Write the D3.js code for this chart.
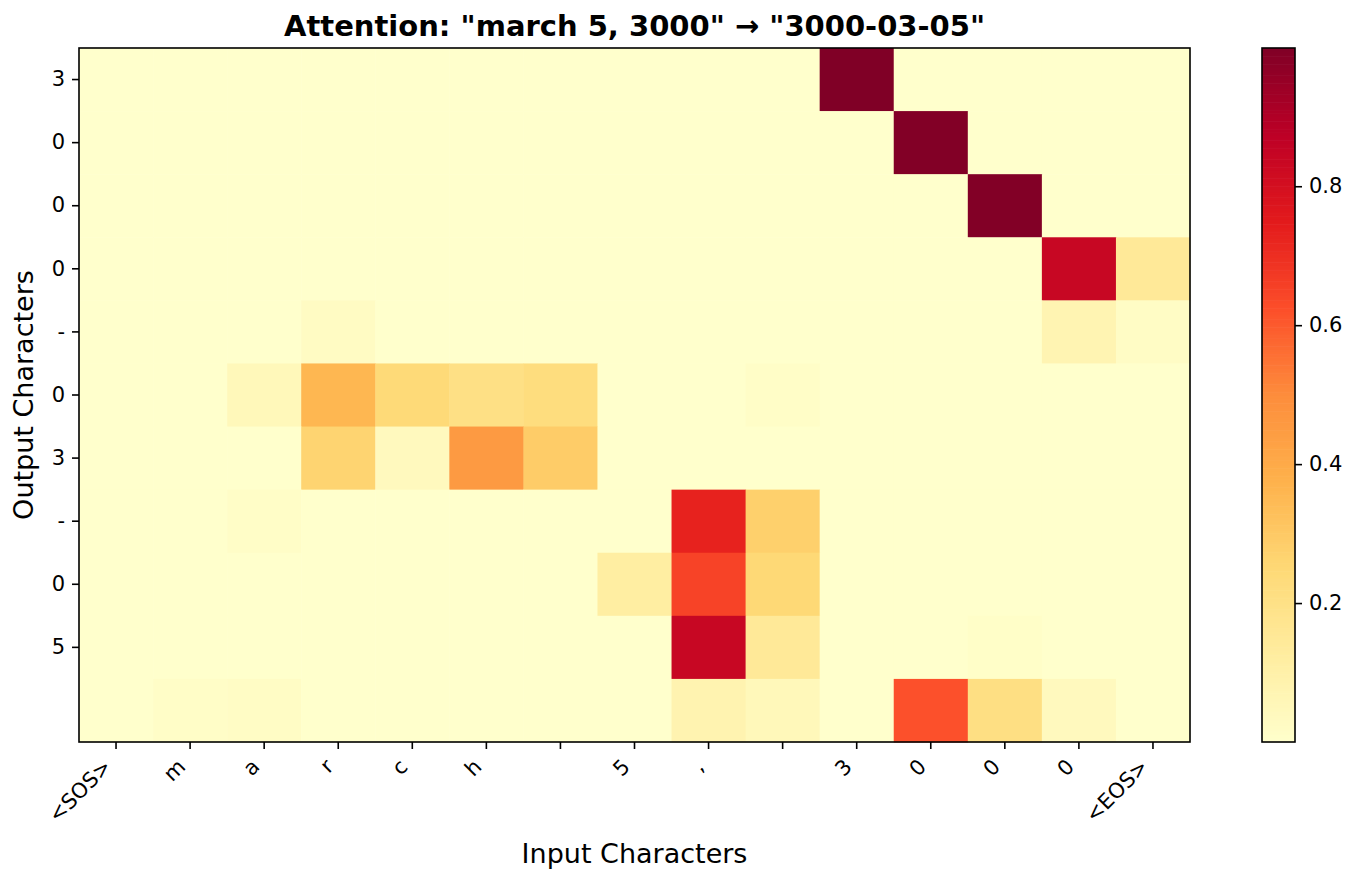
<!DOCTYPE html>
<html>
<head>
<meta charset="UTF-8">
<title>attention_heatmap</title>

<style type="text/css">

	body { margin: 0; background: #ffffff; }

	text { font-family: "DejaVu Sans", sans-serif; fill: #000000; }

	.axis path, .axis line {
		stroke: #000000;
		stroke-width: 1.6px;
	}

	.axis text {
		font-size: 21px;
		fill: #000000;
	}

	.title { font-size: 29px; font-weight: bold; text-anchor: middle; }
	.label { font-size: 27px; text-anchor: middle; }

</style>

<script type="text/javascript" src="https://cdn.jsdelivr.net/npm/d3@7/dist/d3.min.js" charset="utf-8"></script>

<script type="text/javascript">

	// ---- data ----
	var inputChars = ["<SOS>", "m", "a", "r", "c", "h", " ", "5", ",", " ", "3", "0", "0", "0", "<EOS>"];
	var outputChars = ["3", "0", "0", "0", "-", "0", "3", "-", "0", "5", ""];

	// one row per output character, one value per input character
	var attnRow0  = [0, 0, 0, 0, 0, 0, 0, 0, 0, 0, 0.999, 0, 0, 0, 0];
	var attnRow1  = [0, 0, 0, 0, 0, 0, 0, 0, 0, 0, 0, 0.995, 0, 0, 0];
	var attnRow2  = [0, 0, 0, 0, 0, 0, 0, 0, 0, 0, 0, 0, 0.995, 0, 0];
	var attnRow3  = [0, 0, 0, 0, 0, 0, 0, 0, 0, 0, 0, 0, 0, 0.84, 0.15];
	var attnRow4  = [0, 0, 0, 0.025, 0, 0, 0, 0, 0, 0, 0, 0, 0, 0.075, 0.02];
	var attnRow5  = [0, 0, 0.05, 0.36, 0.245, 0.205, 0.225, 0, 0, 0.015, 0, 0, 0, 0, 0];
	var attnRow6  = [0, 0, 0, 0.265, 0.04, 0.455, 0.29, 0, 0, 0, 0, 0, 0, 0, 0];
	var attnRow7  = [0, 0, 0.015, 0, 0, 0, 0, 0, 0.73, 0.28, 0, 0, 0, 0, 0];
	var attnRow8  = [0, 0, 0, 0, 0, 0, 0, 0.12, 0.65, 0.25, 0, 0, 0, 0, 0];
	var attnRow9  = [0, 0, 0, 0, 0, 0, 0, 0, 0.84, 0.15, 0, 0, 0.01, 0, 0];
	var attnRow10 = [0, 0.015, 0.02, 0, 0, 0, 0, 0, 0.08, 0.05, 0, 0.62, 0.21, 0.04, 0];

	var attnRows = [attnRow0, attnRow1, attnRow2, attnRow3, attnRow4, attnRow5,
	                attnRow6, attnRow7, attnRow8, attnRow9, attnRow10];

	var colorbarTicks = [0.2, 0.4, 0.6, 0.8];

	// YlOrRd colour stops (matplotlib)
	var ylOrRd = ["#ffffcc", "#ffeda0", "#fed976", "#feb24c", "#fd8d3c",
	              "#fc4e2a", "#e31a1c", "#bd0026", "#800026"];

	function draw(id_svg_main) {

		var svg_w = 1357, svg_h = 883;
		var left = 79, right = 1190, top = 48, bottom = 742;
		var cb_left = 1262, cb_right = 1295;

		var cells = [];
		attnRows.forEach(function (row, r) {
			row.forEach(function (v, c) { cells.push({ row: r, col: c, value: v }); });
		});

		var extent = d3.extent(cells, function (d) { return d.value; });

		// scales
		var scaleX = d3.scaleBand()
							.domain(d3.range(inputChars.length))
							.range([left, right]);

		var scaleY = d3.scaleBand()
							.domain(d3.range(attnRows.length))
							.range([top, bottom]);

		var scaleT = d3.scaleLinear().domain(extent).range([0, 1]);

		var scaleColor = d3.scaleLinear()
							.domain(ylOrRd.map(function (d, i) { return i / (ylOrRd.length - 1); }))
							.range(ylOrRd)
							.interpolate(d3.interpolateRgb)
							.clamp(true);

		function color(v) { return scaleColor(scaleT(v)); }

		var svg = d3.select(id_svg_main)
						.append("svg")
							.attr("width", svg_w)
							.attr("height", svg_h);

		// heatmap cells
		svg.append("g")
			.selectAll("rect")
			.data(cells)
			.enter()
			.append("rect")
				.attr("x", function (d) { return scaleX(d.col); })
				.attr("y", function (d) { return scaleY(d.row); })
				.attr("width", scaleX.bandwidth() + 0.5)
				.attr("height", scaleY.bandwidth() + 0.5)
				.attr("fill", function (d) { return color(d.value); });

		// x axis
		var axisX = d3.axisBottom(scaleX)
						.tickSize(7)
						.tickSizeOuter(0)
						.tickFormat(function (i) { return inputChars[i]; });

		var gx = svg.append("g")
				.attr("class", "x axis")
				.attr("transform", "translate(0," + bottom + ")")
				.call(axisX);
		gx.select(".domain").remove();
		gx.selectAll("text")
				.attr("x", null)
				.attr("y", null)
				.attr("dy", null)
				.attr("text-anchor", "end")
				.attr("transform", "translate(-3.4,26) rotate(-45)");

		// y axis (only the labelled output characters get a tick)
		var axisY = d3.axisLeft(scaleY)
						.tickValues(d3.range(outputChars.length).filter(function (i) { return outputChars[i] !== ""; }))
						.tickSize(7)
						.tickPadding(7)
						.tickSizeOuter(0)
						.tickFormat(function (i) { return outputChars[i]; });

		var gy = svg.append("g")
				.attr("class", "y axis")
				.attr("transform", "translate(" + left + ",0)")
				.call(axisY);
		gy.select(".domain").remove();

		// frame
		svg.append("rect")
				.attr("x", left).attr("y", top)
				.attr("width", right - left).attr("height", bottom - top)
				.attr("fill", "none")
				.attr("stroke", "#000")
				.attr("stroke-width", 1.6);

		// colorbar
		var scaleCb = d3.scaleLinear().domain(extent).range([bottom, top]);
		var steps = d3.range(256).map(function (i) {
			var v0 = extent[0] + (extent[1] - extent[0]) * i / 256;
			var v1 = extent[0] + (extent[1] - extent[0]) * (i + 1) / 256;
			return { v0: v0, v1: v1 };
		});

		svg.append("g")
			.selectAll("rect")
			.data(steps)
			.enter()
			.append("rect")
				.attr("x", cb_left)
				.attr("y", function (d) { return scaleCb(d.v1); })
				.attr("width", cb_right - cb_left)
				.attr("height", function (d) { return scaleCb(d.v0) - scaleCb(d.v1) + 0.6; })
				.attr("fill", function (d) { return color((d.v0 + d.v1) / 2); });

		var axisCb = d3.axisRight(scaleCb)
						.tickValues(colorbarTicks)
						.tickSize(7)
						.tickPadding(7)
						.tickSizeOuter(0)
						.tickFormat(d3.format(".1f"));

		var gc = svg.append("g")
				.attr("class", "cb axis")
				.attr("transform", "translate(" + cb_right + ",0)")
				.call(axisCb);
		gc.select(".domain").remove();

		svg.append("rect")
				.attr("x", cb_left).attr("y", top)
				.attr("width", cb_right - cb_left).attr("height", bottom - top)
				.attr("fill", "none")
				.attr("stroke", "#000")
				.attr("stroke-width", 1.6);

		// title and axis labels
		svg.append("text")
				.attr("class", "title")
				.attr("x", (left + right) / 2)
				.attr("y", 36)
				.text("Attention: \"march 5, 3000\" \u2192 \"3000-03-05\"");

		svg.append("text")
				.attr("class", "label")
				.attr("x", (left + right) / 2)
				.attr("y", 863)
				.text("Input Characters");

		svg.append("text")
				.attr("class", "label")
				.attr("transform", "translate(33," + ((top + bottom) / 2) + ") rotate(-90)")
				.text("Output Characters");
	}

</script>

</head>
<body>

<div id="div_main"></div>

<script type="text/javascript">
	draw("#div_main");
</script>

</body>
</html>
